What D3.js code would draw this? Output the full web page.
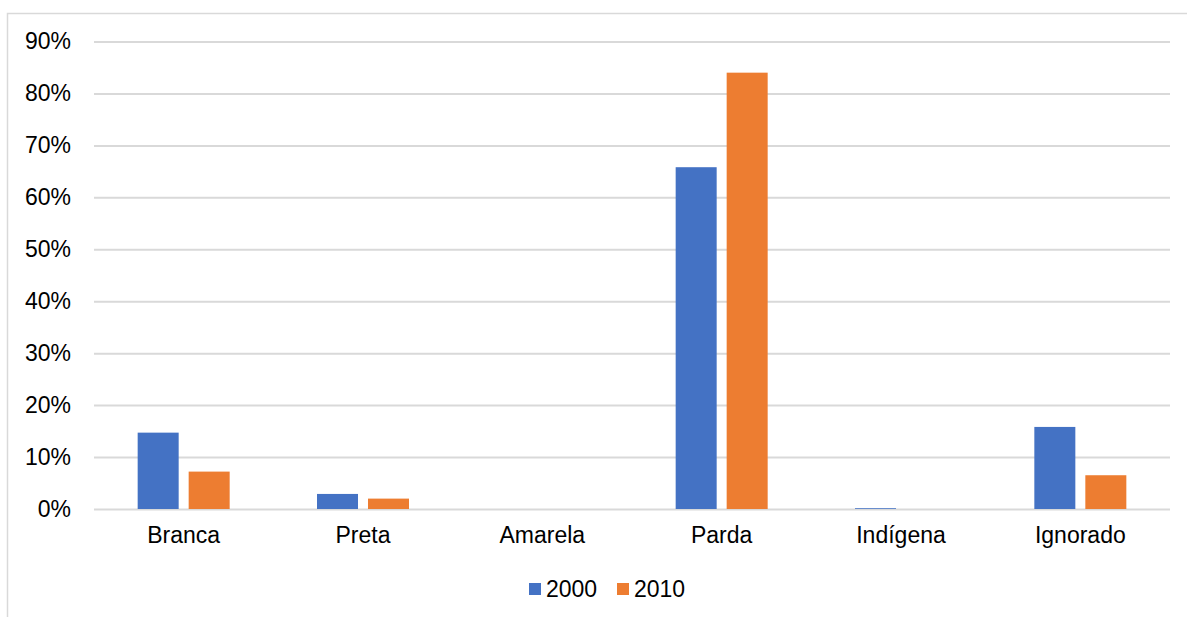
<!DOCTYPE html>
<html>
<head>
<meta charset="utf-8">
<script src="https://cdn.jsdelivr.net/npm/d3@7"></script>
<style>
  html, body { margin: 0; padding: 0; background: #fff; }
  svg { display: block; font-family: "Liberation Sans", Arial, sans-serif; }
</style>
</head>
<body>
<div id="chart"></div>
<script>
// data
const categories = ["Branca", "Preta", "Amarela", "Parda", "Indígena", "Ignorado"];
const years = ["2000", "2010"];
const values2000 = [14.7, 2.9, 0, 65.8, 0.15, 15.8];
const values2010 = [7.2, 2.0, 0, 84.0, 0, 6.5];
const yTicks = [0, 10, 20, 30, 40, 50, 60, 70, 80, 90];
const colors = ["#4472c4", "#ed7d31"];

const width = 1187, height = 617;
const margin = { left: 94, right: 17, top: 41.5, bottom: 108 };

const svg = d3.select("#chart").append("svg")
  .attr("width", width)
  .attr("height", height);

// chart area border (only top and left visible)
svg.append("path")
  .attr("d", "M7.5,617 V13.5 H1187")
  .attr("fill", "none")
  .attr("stroke", "#d9d9d9")
  .attr("stroke-width", 1.5);

const x = d3.scaleBand()
  .domain(categories)
  .range([margin.left, width - margin.right]);

// two bars of ~41px with a ~10px gap inside each category
const xInner = d3.scaleBand()
  .domain(years)
  .range([0, 92])
  .paddingInner(0.196);

const y = d3.scaleLinear()
  .domain([0, 90])
  .range([509, 41.5]);

// gridlines + y labels
const yAxis = svg.append("g")
  .attr("transform", "translate(" + margin.left + ",0)")
  .call(d3.axisLeft(y)
    .tickValues(yTicks)
    .tickSize(-(width - margin.left - margin.right))
    .tickPadding(23)
    .tickFormat(d => d + "%"));
yAxis.select(".domain").remove();
yAxis.selectAll(".tick line")
  .attr("stroke", "#d9d9d9")
  .attr("stroke-width", 2);
yAxis.selectAll(".tick text")
  .attr("fill", "#000")
  .style("font-size", "23px");

// bars
const series = [values2000, values2010];
const groups = svg.append("g");
series.forEach((vals, si) => {
  groups.selectAll(".bar" + si)
    .data(categories)
    .enter()
    .append("rect")
    .attr("x", d => x(d) + (x.bandwidth() - 92) / 2 + xInner(years[si]))
    .attr("y", (d, i) => y(vals[i]))
    .attr("width", xInner.bandwidth())
    .attr("height", (d, i) => y(0) - y(vals[i]))
    .attr("fill", colors[si]);
});

// x labels
const xAxis = svg.append("g")
  .attr("transform", "translate(0,509)")
  .call(d3.axisBottom(x).tickSize(0).tickPadding(18));
xAxis.select(".domain").remove();
xAxis.selectAll(".tick text")
  .attr("fill", "#000")
  .style("font-size", "23px");

// legend
const legendItems = [
  { label: years[0], color: colors[0], x: 529 },
  { label: years[1], color: colors[1], x: 617 }
];
const legend = svg.append("g");
legendItems.forEach(it => {
  legend.append("rect")
    .attr("x", it.x)
    .attr("y", 583)
    .attr("width", 12)
    .attr("height", 12)
    .attr("fill", it.color);
  legend.append("text")
    .attr("x", it.x + 17)
    .attr("y", 597)
    .style("font-size", "23px")
    .attr("fill", "#000")
    .text(it.label);
});
</script>
</body>
</html>
